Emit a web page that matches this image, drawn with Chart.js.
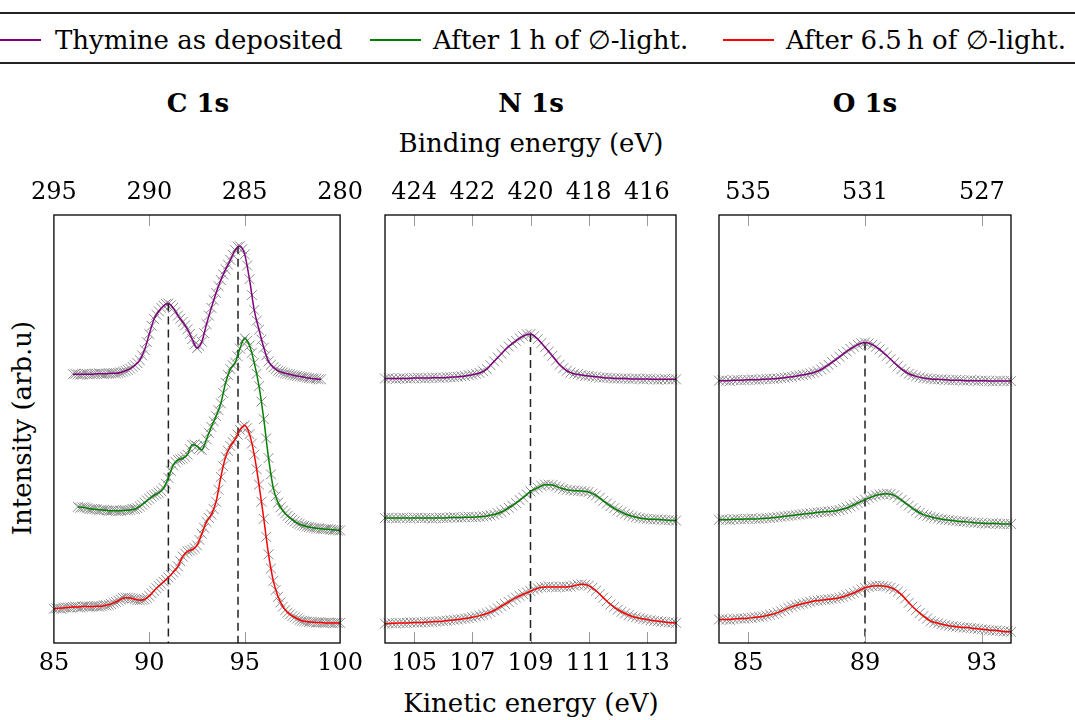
<!DOCTYPE html>
<html>
<head>
<meta charset="utf-8">
<script src="https://cdn.jsdelivr.net/npm/chart.js@4.4.0/dist/chart.umd.min.js"></script>
<style>
  body { margin: 0; width: 1075px; height: 720px; background: #fff; position: relative; overflow: hidden;
         font-family: "DejaVu Serif", serif; color: #000; }
  .t { position: absolute; font-size: 26px; line-height: 26px; white-space: nowrap; }
  .c { text-align: center; }
  .rule { position: absolute; left: 0; width: 1075px; height: 1.5px; background: #222; }
  .key { position: absolute; height: 1.5px; }
  .panel { position: absolute; top: 171px; height: 514px; }
</style>
</head>
<body>

<div class="rule" style="top:12px"></div>
<div class="rule" style="top:62px"></div>
<div class="key" style="left:0;width:41px;top:39px;background:#800080"></div>
<div class="t" style="left:55px;top:27px">Thymine as deposited</div>
<div class="key" style="left:370px;width:51px;top:39px;background:#008000"></div>
<div class="t" style="left:433px;top:27px">After 1&#8201;h of &#8709;-light.</div>
<div class="key" style="left:723px;width:51px;top:39px;background:#ff0000"></div>
<div class="t" style="left:786px;top:27px">After 6.5&#8201;h of &#8709;-light.</div>

<div class="t c" style="left:98px;width:200px;top:90px;font-weight:bold">C 1s</div>
<div class="t c" style="left:431px;width:200px;top:90px;font-weight:bold">N 1s</div>
<div class="t c" style="left:765px;width:200px;top:90px;font-weight:bold">O 1s</div>
<div class="t c" style="left:331px;width:400px;top:130px">Binding energy (eV)</div>
<div class="t c" style="left:331px;width:400px;top:690px">Kinetic energy (eV)</div>
<div class="t c" style="left:-128px;width:300px;top:415px;transform:rotate(-90deg)">Intensity (arb.u)</div>

<div class="panel" style="left:21px;width:352px"><canvas id="c1s"></canvas></div>
<div class="panel" style="left:355px;width:351px"><canvas id="n1s"></canvas></div>
<div class="panel" style="left:689px;width:352px"><canvas id="o1s"></canvas></div>

<script>
// ---- C 1s ----
const cKinetic = [85, 85.25, 85.5, 85.75, 86, 86.25, 86.5, 86.75, 87, 87.25, 87.5, 87.75, 88, 88.25, 88.5, 88.75,
  89, 89.25, 89.5, 89.75, 90, 90.25, 90.5, 90.75, 91, 91.25, 91.5, 91.75, 92, 92.25, 92.5, 92.75, 93, 93.25, 93.5,
  93.75, 94, 94.25, 94.5, 94.75, 95, 95.25, 95.5, 95.75, 96, 96.25, 96.5, 96.75, 97, 97.25, 97.5, 97.75, 98, 98.25,
  98.5, 98.75, 99, 99.25, 99.5, 99.75, 100];
const cDeposited = [null, null, null, null,
  62.8, 62.8, 62.8, 62.8, 62.8, 62.9, 62.9, 62.9, 63.0, 63.0, 63.2, 63.6, 64.1, 64.9, 66.1, 68.5, 72.2, 75.7, 77.5,
  78.8, 79.3, 78.3, 76.5, 75.0, 73.3, 71.0, 68.9, 70.4, 74.5, 78.3, 81.8, 84.8, 87.3, 89.5, 91.8, 92.7, 90.8, 85.0,
  77.8, 73.2, 69.0, 65.8, 64.4, 63.6, 63.2, 62.9, 62.6, 62.4, 62.2, 62.0, 61.8, 61.7, 61.6,
  null, null, null, null];
const cAfter1h = [null, null, null, null, null,
  31.8, 31.7, 31.5, 31.3, 31.2, 31.1, 31.0, 30.9, 30.9, 30.9, 31.0, 31.1, 31.3, 31.9, 32.8, 33.7, 34.5, 35.1, 36.2,
  38.6, 41.5, 42.8, 43.1, 44.0, 46.3, 46.0, 45.1, 47.6, 50.5, 53.0, 56.0, 60.8, 64.0, 65.5, 68.8, 71.2, 69.5, 65.5,
  60.0, 52.3, 43.2, 36.2, 32.8, 30.9, 29.7, 28.8, 28.0, 27.5, 27.2, 27.0, 26.8, 26.7, 26.6, 26.5, 26.4, 26.3];
const cAfter65h = [8.0, 8.1, 8.2, 8.3, 8.4, 8.4, 8.5, 8.5, 8.5, 8.6, 8.6, 8.8, 9.1, 9.6, 10.2, 10.6, 10.5, 10.2,
  10.0, 10.2, 11.0, 12.2, 13.3, 14.3, 15.3, 16.5, 17.9, 20.2, 21.4, 21.8, 22.8, 25.5, 28.3, 30.0, 33.0, 38.8, 43.5,
  46.0, 47.6, 49.8, 50.8, 48.8, 44.0, 37.0, 29.0, 20.7, 14.5, 10.8, 8.5, 7.1, 6.3, 5.7, 5.2, 5.0, 4.9, 4.8, 4.8,
  4.7, 4.7, 4.7, 4.7];
// measured points lying between the fit samples
const cKineticMid = [85.125, 85.375, 85.625, 85.875, 86.125, 86.375, 86.625, 86.875, 87.125, 87.375, 87.625, 87.875,
  88.125, 88.375, 88.625, 88.875, 89.125, 89.375, 89.625, 89.875, 90.125, 90.375, 90.625, 90.875, 91.125, 91.375,
  91.625, 91.875, 92.125, 92.375, 92.625, 92.875, 93.125, 93.375, 93.625, 93.875, 94.125, 94.375, 94.625, 94.875,
  95.125, 95.375, 95.625, 95.875, 96.125, 96.375, 96.625, 96.875, 97.125, 97.375, 97.625, 97.875, 98.125, 98.375,
  98.625, 98.875, 99.125, 99.375, 99.625, 99.875];
const cDepositedMid = [null, null, null, null,
  62.9, 62.7, 62.9, 62.8, 62.9, 63.0, 62.8, 63.0, 63.1, 63.1, 63.4, 63.8, 64.5, 65.4, 67.2, 70.3, 74.1, 76.7, 78.3,
  79.2, 78.9, 77.4, 75.8, 74.2, 72.2, 69.8, 69.4, 72.4, 76.5, 80.1, 83.4, 86.1, 88.4, 90.7, 92.6, 92.0, 88.2, 81.3,
  75.3, 70.9, 67.2, 65.0, 64.0, 63.4, 63.0, 62.8, 62.5, 62.3, 62.1, 61.9, 61.8, 61.6,
  null, null, null, null];
const cAfter1hMid = [null, null, null, null, null,
  31.6, 31.7, 31.3, 31.3, 31.0, 31.1, 30.9, 31.0, 30.8, 31.0, 31.0, 31.3, 31.5, 32.3, 33.3, 34.2, 34.8, 35.5, 37.2,
  40.2, 42.3, 42.9, 43.5, 45.3, 46.4, 45.4, 46.2, 49.1, 51.8, 54.4, 58.4, 62.6, 64.9, 67.0, 70.4, 70.6, 67.8, 62.9,
  56.4, 47.8, 39.4, 34.3, 31.7, 30.3, 29.2, 28.4, 27.8, 27.4, 27.1, 26.9, 26.8, 26.6, 26.6, 26.4, 26.3];
const cAfter65hMid = [8.1, 8.0, 8.3, 8.3, 8.5, 8.3, 8.6, 8.5, 8.6, 8.5, 8.8, 8.9, 9.4, 9.9, 10.5, 10.6, 10.4, 10.0,
  10.1, 10.5, 11.6, 12.8, 13.8, 14.8, 15.9, 17.1, 19.1, 20.9, 21.6, 22.2, 24.1, 26.9, 29.2, 31.3, 35.8, 41.3, 44.9,
  46.9, 48.7, 50.5, 50.2, 46.6, 40.6, 33.0, 24.8, 17.4, 12.4, 9.5, 7.7, 6.7, 6.0, 5.4, 5.1, 4.9, 4.9, 4.8, 4.7, 4.8,
  4.6, 4.7];
const cPeakKinetic = [91.0, 94.65];
const cPeakHeight = [79.3, 92.8];
const cKineticTicks = [85, 90, 95, 100];
const cBindingTicks = [295, 290, 285, 280];

// ---- N 1s ----
const nKinetic = [104, 104.25, 104.5, 104.75, 105, 105.25, 105.5, 105.75, 106, 106.25, 106.5, 106.75, 107, 107.25,
  107.5, 107.75, 108, 108.25, 108.5, 108.75, 109, 109.25, 109.5, 109.75, 110, 110.25, 110.5, 110.75, 111, 111.25,
  111.5, 111.75, 112, 112.25, 112.5, 112.75, 113, 113.25, 113.5, 113.75, 114];
const nDeposited = [61.8, 61.8, 61.8, 61.8, 61.9, 61.9, 61.9, 62.0, 62.0, 62.1, 62.2, 62.4, 62.7, 63.1, 64.0, 65.8,
  67.6, 69.3, 70.6, 71.7, 72.2, 71.0, 69.1, 67.1, 65.0, 63.6, 62.9, 62.6, 62.4, 62.2, 62.0, 61.9, 61.8, 61.8, 61.7,
  61.7, 61.7, 61.6, 61.6, 61.6, 61.6];
const nAfter1h = [29.2, 29.2, 29.2, 29.2, 29.2, 29.2, 29.2, 29.2, 29.2, 29.3, 29.3, 29.4, 29.4, 29.5, 29.7, 30.0,
  30.6, 31.6, 32.7, 34.0, 35.4, 36.3, 37.0, 36.9, 36.3, 35.8, 35.6, 35.5, 35.3, 34.5, 33.2, 32.0, 31.0, 30.2, 29.6,
  29.2, 29.0, 28.9, 28.8, 28.7, 28.6];
const nAfter65h = [4.5, 4.6, 4.7, 4.7, 4.8, 4.8, 4.9, 5.0, 5.1, 5.3, 5.5, 5.7, 6.0, 6.4, 6.9, 7.6, 8.6, 9.6, 10.6,
  11.4, 12.1, 12.8, 13.1, 13.1, 13.1, 13.1, 13.4, 13.7, 13.4, 12.2, 10.6, 9.0, 7.8, 6.9, 6.2, 5.8, 5.5, 5.2, 5.0,
  4.8, 4.7];
const nKineticMid = [104.125, 104.375, 104.625, 104.875, 105.125, 105.375, 105.625, 105.875, 106.125, 106.375,
  106.625, 106.875, 107.125, 107.375, 107.625, 107.875, 108.125, 108.375, 108.625, 108.875, 109.125, 109.375,
  109.625, 109.875, 110.125, 110.375, 110.625, 110.875, 111.125, 111.375, 111.625, 111.875, 112.125, 112.375,
  112.625, 112.875, 113.125, 113.375, 113.625, 113.875];
const nDepositedMid = [61.9, 61.7, 61.9, 61.8, 62.0, 61.8, 62.0, 61.9, 62.1, 62.1, 62.3, 62.6, 62.9, 63.5, 64.9,
  66.7, 68.5, 70.0, 71.2, 72.1, 71.7, 70.1, 68.1, 66.0, 64.2, 63.2, 62.8, 62.4, 62.3, 62.0, 62.0, 61.8, 61.8, 61.7,
  61.8, 61.6, 61.7, 61.5, 61.7, 61.6];
const nAfter1hMid = [29.3, 29.1, 29.3, 29.1, 29.3, 29.2, 29.1, 29.3, 29.2, 29.4, 29.3, 29.5, 29.4, 29.6, 29.8, 30.3,
  31.1, 32.1, 33.4, 34.7, 35.9, 36.7, 37.0, 36.6, 36.0, 35.7, 35.5, 35.4, 34.9, 33.9, 32.6, 31.5, 30.6, 29.9, 29.4,
  29.1, 28.9, 28.9, 28.7, 28.7];
const nAfter65hMid = [4.6, 4.6, 4.7, 4.8, 4.8, 4.9, 4.9, 5.1, 5.2, 5.4, 5.6, 5.8, 6.2, 6.6, 7.2, 8.1, 9.1, 10.1, 11.0,
  11.8, 12.5, 13.0, 13.2, 13.0, 13.2, 13.2, 13.6, 13.6, 12.9, 11.4, 9.8, 8.4, 7.3, 6.5, 6.0, 5.6, 5.3, 5.1, 4.9, 4.8];
const nPeakKinetic = [109.0];
const nPeakHeight = [72.2];
const nKineticTicks = [105, 107, 109, 111, 113];
const nBindingTicks = [424, 422, 420, 418, 416];

// ---- O 1s ----
const oKinetic = [84, 84.25, 84.5, 84.75, 85, 85.25, 85.5, 85.75, 86, 86.25, 86.5, 86.75, 87, 87.25, 87.5, 87.75,
  88, 88.25, 88.5, 88.75, 89, 89.25, 89.5, 89.75, 90, 90.25, 90.5, 90.75, 91, 91.25, 91.5, 91.75, 92, 92.25, 92.5,
  92.75, 93, 93.25, 93.5, 93.75, 94];
const oDeposited = [61.3, 61.3, 61.4, 61.4, 61.5, 61.5, 61.6, 61.7, 61.8, 62.0, 62.2, 62.5, 62.8, 63.2, 63.9, 65.0,
  66.2, 67.5, 68.7, 69.7, 70.2, 69.7, 68.6, 67.1, 65.5, 64.0, 62.9, 62.3, 61.9, 61.7, 61.6, 61.5, 61.4, 61.4, 61.3,
  61.3, 61.3, 61.2, 61.2, 61.2, 61.2];
const oAfter1h = [28.8, 28.8, 28.9, 28.9, 29.0, 29.0, 29.1, 29.2, 29.4, 29.6, 29.8, 30.0, 30.2, 30.4, 30.6, 30.7,
  30.9, 31.3, 31.9, 32.7, 33.5, 34.2, 34.7, 34.9, 34.5, 33.4, 32.1, 30.9, 30.0, 29.5, 29.1, 28.8, 28.6, 28.4, 28.3,
  28.1, 28.0, 27.9, 27.9, 27.8, 27.8];
const oAfter65h = [5.5, 5.5, 5.6, 5.7, 5.8, 6.0, 6.2, 6.6, 7.1, 7.8, 8.5, 9.0, 9.4, 9.8, 10.0, 10.2, 10.4, 10.8,
  11.4, 12.1, 12.9, 13.3, 13.4, 13.2, 12.6, 11.3, 9.4, 7.7, 6.3, 5.1, 4.6, 4.2, 3.9, 3.7, 3.6, 3.4, 3.2, 3.0, 2.9,
  2.7, 2.6];
const oKineticMid = [84.125, 84.375, 84.625, 84.875, 85.125, 85.375, 85.625, 85.875, 86.125, 86.375, 86.625, 86.875,
  87.125, 87.375, 87.625, 87.875, 88.125, 88.375, 88.625, 88.875, 89.125, 89.375, 89.625, 89.875, 90.125, 90.375,
  90.625, 90.875, 91.125, 91.375, 91.625, 91.875, 92.125, 92.375, 92.625, 92.875, 93.125, 93.375, 93.625, 93.875];
const oDepositedMid = [61.4, 61.2, 61.5, 61.4, 61.6, 61.5, 61.7, 61.7, 61.9, 62.1, 62.4, 62.6, 63.0, 63.5, 64.4, 65.6,
  66.9, 68.1, 69.2, 70.0, 70.0, 69.2, 67.9, 66.3, 64.7, 63.4, 62.6, 62.1, 61.8, 61.6, 61.6, 61.4, 61.5, 61.3, 61.4,
  61.2, 61.3, 61.1, 61.3, 61.2];
const oAfter1hMid = [28.9, 28.7, 29.0, 28.9, 29.1, 29.0, 29.2, 29.3, 29.5, 29.7, 29.9, 30.1, 30.3, 30.5, 30.6, 30.8,
  31.1, 31.6, 32.3, 33.1, 33.9, 34.5, 34.8, 34.8, 34.0, 32.8, 31.5, 30.4, 29.7, 29.3, 28.9, 28.7, 28.5, 28.4, 28.2,
  28.1, 27.9, 28.0, 27.8, 27.8];
const oAfter65hMid = [5.6, 5.4, 5.7, 5.7, 5.9, 6.1, 6.4, 6.8, 7.4, 8.2, 8.8, 9.2, 9.6, 9.9, 10.1, 10.3, 10.6, 11.1,
  11.7, 12.5, 13.1, 13.4, 13.3, 12.9, 12.0, 10.4, 8.5, 7.0, 5.7, 4.8, 4.4, 4.0, 3.8, 3.6, 3.5, 3.3, 3.1, 2.9, 2.8, 2.7];
const oPeakKinetic = [89.0];
const oPeakHeight = [70.2];
const oKineticTicks = [85, 89, 93];
const oBindingTicks = [535, 531, 527];

const seriesColors = ['#800080', '#008000', '#ff0000'];

Chart.defaults.font.family = '"DejaVu Serif", serif';
Chart.defaults.color = '#000';

function pairs(xs, ys) {
  return xs.map((x, i) => ({ x: x, y: ys[i] }));
}

// pgfplots style: black frame, short grey tick marks pointing inward
const frameTicks = {
  id: 'frameTicks',
  afterDatasetsDraw(chart) {
    const ctx = chart.ctx, a = chart.chartArea;
    ctx.save();
    ctx.strokeStyle = '#9a9a9a';
    ctx.lineWidth = 1;
    ['x', 'x2'].forEach(id => {
      const s = chart.scales[id];
      s.ticks.forEach(t => {
        const px = Math.round(s.getPixelForValue(t.value)) + 0.5;
        if (px <= a.left + 2 || px >= a.right - 2) return;
        ctx.beginPath();
        if (id === 'x') { ctx.moveTo(px, a.bottom); ctx.lineTo(px, a.bottom - 11); }
        else { ctx.moveTo(px, a.top); ctx.lineTo(px, a.top + 11); }
        ctx.stroke();
      });
    });
    ctx.strokeStyle = '#000';
    ctx.lineWidth = 1.3;
    ctx.strokeRect(a.left, a.top, a.right - a.left, a.bottom - a.top);
    ctx.restore();
  }
};

function axisTicks(pad) {
  return {
    font: { size: 24, lineHeight: 1 },
    color: '#000',
    padding: pad,
    maxRotation: 0,
    autoSkip: false,
    callback: v => String(v)
  };
}

function crosses(xs, ys) {
  return {
    data: pairs(xs, ys), showLine: false, pointStyle: 'crossRot', pointRadius: 7,
    pointBorderColor: '#8c8c8c', pointBackgroundColor: '#8c8c8c', pointBorderWidth: 1, order: 3, clip: 8
  };
}

function makePanel(id, xs, spectra, xsMid, spectraMid, peakX, peakY, kin, kinTicks, bind, bindTicks) {
  const datasets = [];
  spectra.forEach((ys, i) => {
    datasets.push(crosses(xs, ys));
    datasets.push(crosses(xsMid, spectraMid[i]));
    datasets.push({
      data: pairs(xs, ys), borderColor: seriesColors[i], borderWidth: 1.5, pointRadius: 0,
      cubicInterpolationMode: 'monotone', order: 1
    });
  });
  peakX.forEach((x, i) => {
    datasets.push({
      data: [{ x: x, y: peakY[i] }, { x: x, y: 0 }], borderColor: '#222', borderWidth: 1.5,
      borderDash: [8, 5], pointRadius: 0, order: 2
    });
  });

  new Chart(document.getElementById(id), {
    type: 'line',
    data: { datasets: datasets },
    options: {
      responsive: true,
      maintainAspectRatio: false,
      animation: false,
      layout: { padding: { left: 30, right: 30, top: 0, bottom: 0 } },
      plugins: { legend: { display: false }, tooltip: { enabled: false } },
      scales: {
        x: {
          type: 'linear', position: 'bottom', min: kin[0], max: kin[1],
          grid: { display: false, drawTicks: false }, border: { display: false },
          afterBuildTicks: s => { s.ticks = kinTicks.map(v => ({ value: v })); },
          ticks: axisTicks(9)
        },
        x2: {
          type: 'linear', position: 'top', reverse: true, min: bind[0], max: bind[1],
          grid: { display: false, drawTicks: false }, border: { display: false },
          afterBuildTicks: s => { s.ticks = bindTicks.map(v => ({ value: v })); },
          ticks: axisTicks(10)
        },
        y: { display: false, min: 0, max: 100 }
      }
    },
    plugins: [frameTicks]
  });
}

makePanel('c1s', cKinetic, [cDeposited, cAfter1h, cAfter65h], cKineticMid,
  [cDepositedMid, cAfter1hMid, cAfter65hMid], cPeakKinetic, cPeakHeight,
  [85, 100], cKineticTicks, [280, 295], cBindingTicks);
makePanel('n1s', nKinetic, [nDeposited, nAfter1h, nAfter65h], nKineticMid,
  [nDepositedMid, nAfter1hMid, nAfter65hMid], nPeakKinetic, nPeakHeight,
  [104, 114], nKineticTicks, [415, 425], nBindingTicks);
makePanel('o1s', oKinetic, [oDeposited, oAfter1h, oAfter65h], oKineticMid,
  [oDepositedMid, oAfter1hMid, oAfter65hMid], oPeakKinetic, oPeakHeight,
  [84, 94], oKineticTicks, [526, 536], oBindingTicks);
</script>
</body>
</html>
